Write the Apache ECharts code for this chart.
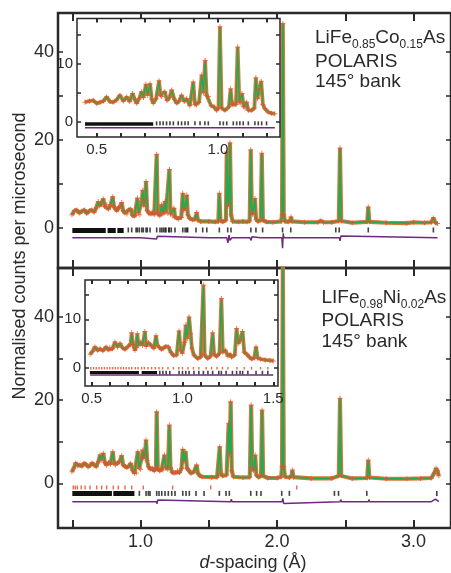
<!DOCTYPE html>
<html>
<head>
<meta charset="utf-8">
<script src="https://cdn.jsdelivr.net/npm/echarts@6/dist/echarts.min.js"></script>
<style>
  html, body { margin: 0; padding: 0; background: #fff; }
  #chart { width: 451px; height: 573px; }
</style>
</head>
<body>
<div id="chart"></div>
<script>
// ---- data: [d-spacing (Å), normalised counts] ----
const topProfile = [
  [0.497,3.0],[0.515,3.9],[0.532,4.1],[0.55,3.4],[0.57,3.8],[0.59,4.1],[0.605,3.3],[0.625,3.9],[0.642,4.1],[0.66,3.6],
  [0.675,4.6],[0.69,6.0],[0.70,5.0],[0.712,5.6],[0.727,6.6],[0.738,4.9],[0.752,5.3],[0.765,4.3],[0.78,5.2],[0.796,7.1],
  [0.805,4.8],[0.813,4.6],[0.825,3.9],[0.835,4.4],[0.849,4.9],[0.862,5.8],[0.872,3.9],[0.886,3.4],[0.90,3.2],[0.912,4.1],
  [0.928,4.3],[0.94,2.9],[0.955,2.7],[0.965,2.9],[0.977,6.8],[0.985,3.4],[0.995,3.0],[1.009,6.0],[1.016,8.6],[1.024,5.0],
  [1.033,6.2],[1.040,10.6],[1.048,4.0],[1.06,3.4],[1.075,3.2],[1.09,3.6],[1.10,3.0],[1.112,3.4],[1.118,16.8],[1.125,3.4],
  [1.14,2.8],[1.148,3.0],[1.155,5.3],[1.162,3.2],[1.172,3.4],[1.179,6.0],[1.186,3.6],[1.20,3.3],[1.211,13.3],[1.219,3.2],
  [1.232,2.8],[1.245,4.5],[1.252,2.5],[1.268,2.2],[1.28,2.0],[1.298,2.4],[1.309,7.9],[1.317,4.0],[1.324,4.5],[1.338,7.5],
  [1.346,3.0],[1.36,2.2],[1.38,1.9],[1.398,2.0],[1.411,3.5],[1.42,1.8],[1.44,1.5],[1.50,1.5],[1.55,1.4],[1.569,1.5],
  [1.577,7.9],[1.585,1.7],[1.60,1.4],[1.625,1.8],[1.631,17.3],[1.640,5.0],[1.648,6.0],[1.655,19.4],[1.663,3.0],[1.675,1.5],
  [1.72,1.4],[1.75,1.5],[1.78,1.4],[1.799,1.6],[1.807,17.8],[1.815,3.5],[1.822,3.0],[1.838,6.7],[1.846,2.0],[1.86,1.5],
  [1.88,1.8],[1.888,17.0],[1.896,1.8],[1.92,1.4],[1.97,1.3],[2.03,1.5],[2.036,3.0],[2.042,46.5],[2.049,3.0],[2.058,1.5],
  [2.08,1.4],[2.095,1.6],[2.102,2.5],[2.11,1.5],[2.20,1.3],[2.30,1.3],[2.32,1.6],[2.34,1.3],[2.40,1.3],[2.452,1.6],
  [2.461,18.2],[2.47,1.6],[2.55,1.2],[2.66,1.4],[2.668,4.8],[2.676,1.4],[2.80,1.2],[2.95,1.1],[3.00,1.3],[3.08,1.2],
  [3.13,1.3],[3.145,2.3],[3.16,1.2],[3.175,1.0]
];
const topDiff = [
  [0.5,-2.2],[1.0,-2.2],[1.118,-2.5],[1.122,-1.9],[1.5,-2.2],[1.631,-2.2],[1.64,-3.4],[1.648,-1.6],[1.655,-2.8],[1.67,-2.2],
  [1.80,-2.2],[1.81,-2.8],[1.815,-2.0],[1.88,-2.2],[1.89,-2.6],[2.035,-2.2],[2.04,-4.6],[2.045,-1.2],[2.05,-2.2],
  [2.455,-2.2],[2.461,-2.9],[2.468,-1.8],[2.475,-2.2],[3.175,-2.2]
];
const topBands = [[0.50, 0.745], [0.758, 0.818], [0.83, 0.876]];
const topTicks = [
  0.91,0.935,0.967,0.977,0.991,1.009,1.02,1.04,1.049,1.069,
  1.118,1.142,1.155,1.167,1.179,1.186,1.206,1.211,1.225,1.252,1.309,1.326,1.338,1.345,1.406,1.455,1.485,
  1.577,1.638,1.662,1.808,1.845,1.894,2.04,2.10,2.43,2.455,2.668,3.145
];

const botProfile = [
  [0.497,2.8],[0.51,3.6],[0.525,4.9],[0.54,4.3],[0.555,4.4],[0.57,4.1],[0.585,4.8],[0.60,4.6],[0.615,4.0],[0.63,4.3],
  [0.645,4.9],[0.66,4.4],[0.675,4.0],[0.69,5.2],[0.703,6.8],[0.712,5.6],[0.727,7.2],[0.738,5.0],[0.75,4.4],[0.765,5.0],
  [0.78,4.6],[0.796,7.6],[0.806,4.8],[0.815,4.4],[0.83,4.8],[0.845,5.2],[0.862,6.6],[0.872,4.4],[0.885,4.0],[0.90,3.8],
  [0.915,4.2],[0.928,4.8],[0.94,3.2],[0.955,2.4],[0.968,2.5],[0.98,7.6],[0.99,3.6],[1.0,3.4],[1.009,6.2],[1.016,8.0],
  [1.024,6.0],[1.033,7.0],[1.040,10.4],[1.048,5.4],[1.058,4.0],[1.07,3.4],[1.085,3.6],[1.10,3.0],[1.112,3.6],[1.118,17.2],
  [1.126,3.5],[1.14,3.0],[1.155,3.4],[1.163,3.2],[1.175,6.8],[1.185,3.8],[1.20,3.4],[1.211,14.0],[1.219,3.8],[1.232,2.6],
  [1.245,2.4],[1.258,2.6],[1.27,3.0],[1.285,2.6],[1.30,3.6],[1.309,8.2],[1.318,5.2],[1.33,7.6],[1.34,3.6],[1.352,3.2],
  [1.37,2.4],[1.39,2.8],[1.411,4.4],[1.42,2.4],[1.435,1.8],[1.45,1.6],[1.52,1.5],[1.56,1.5],[1.572,1.8],[1.58,8.8],
  [1.588,2.4],[1.60,1.8],[1.63,2.0],[1.645,14.4],[1.652,7.0],[1.66,19.6],[1.668,3.0],[1.68,1.6],[1.75,1.4],[1.80,1.5],
  [1.81,18.8],[1.818,3.6],[1.828,3.0],[1.84,6.8],[1.848,2.0],[1.865,1.5],[1.882,1.8],[1.89,17.6],[1.898,1.8],[1.93,1.3],
  [2.0,1.3],[2.03,1.6],[2.036,4.0],[2.042,54.0],[2.049,4.0],[2.058,1.6],[2.09,1.4],[2.105,1.8],[2.112,3.2],[2.12,1.5],
  [2.25,1.2],[2.40,1.2],[2.452,1.8],[2.461,20.4],[2.47,1.8],[2.55,1.2],[2.66,1.3],[2.668,5.6],[2.676,1.4],[2.80,1.1],
  [2.95,1.1],[3.05,1.2],[3.13,1.3],[3.15,2.4],[3.165,3.6],[3.175,3.0],[3.185,1.8]
];
const botDiff = [
  [0.5,-4.4],[1.118,-4.4],[1.12,-4.9],[1.125,-4.0],[1.66,-4.4],[1.665,-3.8],[1.67,-4.4],[2.036,-4.4],[2.042,-3.6],[2.048,-4.8],
  [2.055,-4.4],[2.461,-4.4],[2.466,-3.9],[2.472,-4.4],[2.668,-4.4],[2.672,-3.9],[2.678,-4.4],[3.13,-4.4],[3.16,-3.8],[3.185,-4.4]
];
const botBands = [[0.50, 0.79], [0.80, 0.955]];
const botTicks = [
  0.991,1.04,1.057,1.069,1.118,1.135,1.155,1.179,1.203,1.228,1.252,1.309,1.333,1.357,1.406,1.465,
  1.577,1.626,1.65,1.807,1.85,1.882,2.034,2.09,2.42,2.45,2.657,3.17
];
const botRedTicks = [
  0.507,0.522,0.537,0.565,0.593,0.63,0.679,0.715,0.752,0.80,0.837,0.886,0.935,1.02,1.235,1.514,2.144
];

// insets
const insTopProfile = [
  [0.452,3.4],[0.47,3.6],[0.486,3.7],[0.50,3.2],[0.514,3.4],[0.528,3.6],[0.541,4.3],[0.555,3.5],[0.568,3.4],[0.582,3.8],
  [0.596,4.6],[0.61,3.6],[0.624,4.3],[0.636,3.5],[0.648,4.9],[0.658,3.8],[0.665,3.2],[0.675,4.0],[0.685,5.2],[0.693,4.2],
  [0.703,6.5],[0.71,4.6],[0.72,6.6],[0.727,3.9],[0.733,3.2],[0.745,4.0],[0.757,7.1],[0.763,4.6],[0.768,4.4],[0.781,5.2],
  [0.79,3.7],[0.80,4.2],[0.809,5.5],[0.82,3.9],[0.83,3.2],[0.84,3.6],[0.85,4.6],[0.861,3.5],[0.871,4.0],[0.884,2.8],
  [0.898,6.9],[0.905,3.0],[0.912,2.9],[0.922,3.4],[0.933,8.1],[0.94,5.0],[0.947,10.6],[0.953,4.6],[0.96,4.4],[0.972,2.8],
  [0.983,2.6],[0.994,2.0],[1.002,2.4],[1.008,16.4],[1.015,2.4],[1.029,2.0],[1.045,2.6],[1.052,5.7],[1.058,3.0],[1.063,3.2],
  [1.074,3.0],[1.081,12.9],[1.088,3.4],[1.094,3.2],[1.099,4.9],[1.106,2.6],[1.112,2.4],[1.118,3.4],[1.125,2.0],[1.139,2.0],
  [1.15,2.4],[1.156,7.6],[1.163,4.0],[1.17,5.7],[1.178,7.0],[1.185,3.0],[1.193,2.3],[1.207,1.7],[1.22,1.5],[1.234,1.4]
];
const insTopBands = [[0.452, 0.733]];
const insTopTicks = [
  0.747,0.761,0.774,0.788,0.802,0.816,0.836,0.85,0.864,0.877,0.905,0.926,0.946,0.96,1.008,1.022,1.036,
  1.063,1.077,1.09,1.104,1.125,1.152,1.166,1.18,1.20
];
const insTopDiff = [[0.452,-1.0],[1.008,-1.0],[1.012,-1.3],[1.016,-1.0],[1.234,-1.0]];

const insBotProfile = [
  [0.491,2.8],[0.505,3.4],[0.518,4.3],[0.532,3.6],[0.546,3.9],[0.562,3.5],[0.579,4.3],[0.59,3.7],[0.60,4.1],[0.614,3.9],
  [0.628,5.3],[0.642,4.3],[0.656,5.0],[0.67,4.1],[0.683,3.8],[0.70,4.4],[0.714,4.9],[0.72,7.2],[0.727,4.8],[0.738,3.6],
  [0.744,4.2],[0.751,7.0],[0.758,4.6],[0.77,5.3],[0.78,4.6],[0.793,7.5],[0.80,4.4],[0.812,5.2],[0.83,4.5],[0.843,4.0],
  [0.854,6.6],[0.862,4.6],[0.872,4.3],[0.884,3.8],[0.894,4.0],[0.908,4.4],[0.922,4.3],[0.936,3.2],[0.95,2.5],[0.968,2.6],
  [0.981,7.6],[0.99,3.6],[0.999,3.0],[1.011,5.2],[1.018,8.8],[1.026,6.0],[1.036,10.5],[1.045,7.0],[1.052,4.0],[1.063,2.6],
  [1.084,1.9],[1.10,2.2],[1.109,2.6],[1.115,17.1],[1.122,2.6],[1.139,1.9],[1.155,2.4],[1.166,7.2],[1.174,2.8],[1.188,2.3],
  [1.204,3.0],[1.214,14.3],[1.222,3.2],[1.236,3.6],[1.25,2.4],[1.262,2.8],[1.27,2.2],[1.288,2.6],[1.298,8.1],[1.307,5.0],
  [1.317,5.7],[1.331,7.5],[1.34,3.2],[1.354,2.8],[1.368,2.2],[1.381,1.8],[1.395,2.0],[1.405,4.3],[1.414,2.0],[1.43,1.8],
  [1.455,1.6],[1.482,1.5],[1.50,1.4]
];
const insBotBands = [[0.49, 0.76], [0.775, 0.86]];
const insBotTicks = [0.875,0.892,0.91,0.93,0.981,1.0,1.018,1.036,1.063,1.09,1.115,1.14,1.166,1.2,1.214,1.24,1.275,1.298,1.317,1.331,1.36,1.405,1.44,1.47];
const insBotRedTicks = [
  0.495,0.51,0.525,0.54,0.555,0.57,0.585,0.60,0.615,0.63,0.645,0.66,0.675,0.69,0.705,0.72,0.74,0.755,0.775,0.79,0.81,
  0.83,0.85,0.87,0.89,0.92,0.95,0.98,1.0,1.03,1.06,1.09,1.13,1.16,1.19,1.22,1.25,1.3,1.34,1.38,1.43,1.47
];
const insBotDiff = [[0.491,-1.5],[1.115,-1.5],[1.118,-1.9],[1.122,-1.5],[1.5,-1.5]];

// tick values
const mainXTicks = [0.5, 1.0, 1.5, 2.0, 2.5, 3.0];
const mainXLabels = [1.0, 2.0, 3.0];
const mainYTicks = [0, 10, 20, 30, 40];
const mainYLabels = [0, 20, 40];
const insTopXTicks = [0.5, 0.6, 0.7, 0.8, 0.9, 1.0, 1.1, 1.2];
const insTopXLabels = [0.5, 1.0];
const insBotXTicks = [0.5, 0.6, 0.7, 0.8, 0.9, 1.0, 1.1, 1.2, 1.3, 1.4, 1.5];
const insBotXLabels = [0.5, 1.0, 1.5];
const insYTicks = [0, 5, 10, 15];
const insYLabels = [0, 10];

const FONT = '"Liberation Sans", Arial, sans-serif';
const INK = '#2a2a2a';
const OBS_LINE = '#dc7436';
const OBS_MARK = '#e4532a';
const CALC = '#22aa52';
const DIFF = '#6e2a7c';
const PLUS = 'path://M2,0H3V2H5V3H3V5H2V3H0V2H2Z';

function xAxis(grid, min, max, ticks, labels, pos, len, fs, z) {
  return {
    type: 'value', gridIndex: grid, min: min, max: max, position: pos, z: z,
    axisLine: { show: false, onZero: false },
    splitLine: { show: false },
    axisTick: { inside: true, length: len, customValues: ticks, lineStyle: { color: INK, width: 2 } },
    axisLabel: labels ? {
      customValues: labels, margin: 5, color: INK, fontSize: fs, fontFamily: FONT,
      formatter: v => v.toFixed(1)
    } : { show: false }
  };
}
function yAxis(grid, min, max, ticks, labels, pos, len, fs, z) {
  return {
    type: 'value', gridIndex: grid, min: min, max: max, position: pos, z: z,
    axisLine: { show: false, onZero: false },
    splitLine: { show: false },
    axisTick: { inside: true, length: len, customValues: ticks, lineStyle: { color: INK, width: 1.5 } },
    axisLabel: labels ? {
      customValues: labels, margin: 4, color: INK, fontSize: fs, fontFamily: FONT
    } : { show: false }
  };
}

function panelSeries(ax, profile, diff, bands, ticks, redTicks, tickY, redY, bandW, tickH, lw, z) {
  const s = [];
  s.push({ type: 'line', xAxisIndex: ax, yAxisIndex: ax, data: profile, z: z,
    showSymbol: false, lineStyle: { color: OBS_LINE, width: lw + 2.4 } });
  s.push({ type: 'line', xAxisIndex: ax, yAxisIndex: ax, data: profile, z: z + 1,
    showSymbol: false, lineStyle: { color: CALC, width: lw } });
  s.push({ type: 'scatter', xAxisIndex: ax, yAxisIndex: ax, data: profile, z: z + 2,
    symbol: PLUS, symbolSize: 5, itemStyle: { color: OBS_MARK } });
  s.push({ type: 'line', xAxisIndex: ax, yAxisIndex: ax, data: diff, z: z,
    showSymbol: false, lineStyle: { color: DIFF, width: 1.5 } });
  s.push({ type: 'lines', coordinateSystem: 'cartesian2d', xAxisIndex: ax, yAxisIndex: ax, z: z,
    data: bands.map(b => ({ coords: [[b[0], tickY], [b[1], tickY]] })),
    lineStyle: { color: '#111', width: bandW, opacity: 1 } });
  s.push({ type: 'scatter', xAxisIndex: ax, yAxisIndex: ax, z: z,
    data: ticks.map(d => [d, tickY]), symbol: 'rect', symbolSize: [1.6, tickH], itemStyle: { color: '#111' } });
  if (redTicks) {
    s.push({ type: 'scatter', xAxisIndex: ax, yAxisIndex: ax, z: z,
      data: redTicks.map(d => [d, redY]), symbol: 'rect', symbolSize: [1.4, tickH - 1], itemStyle: { color: '#e8401c' } });
  }
  return s;
}

const chart = echarts.init(document.getElementById('chart'));

const option = {
  animation: false,
  backgroundColor: '#fff',
  grid: [
    { left: 58, top: 13, width: 393, height: 255, show: true, borderColor: INK, borderWidth: 2.5, backgroundColor: 'transparent' },
    { left: 58, top: 268, width: 393, height: 260, show: true, borderColor: INK, borderWidth: 2.5, backgroundColor: 'transparent' },
    { left: 77, top: 18.5, width: 203, height: 118.5, show: true, borderColor: INK, borderWidth: 1.5, backgroundColor: '#fff', z: 5 },
    { left: 85, top: 280, width: 193, height: 106, show: true, borderColor: INK, borderWidth: 1.5, backgroundColor: '#fff', z: 5 }
  ],
  xAxis: [
    xAxis(0, 0.395, 3.274, mainXTicks, null, 'bottom', 8, 18, 1),
    xAxis(0, 0.395, 3.274, mainXTicks, null, 'top', 8, 18, 1),
    xAxis(1, 0.395, 3.274, mainXTicks, mainXLabels, 'bottom', 8, 18, 1),
    xAxis(1, 0.395, 3.274, mainXTicks, null, 'top', 8, 18, 1),
    xAxis(2, 0.419, 1.2555, insTopXTicks, insTopXLabels, 'bottom', 4, 15, 8),
    xAxis(2, 0.419, 1.2555, insTopXTicks, null, 'top', 4, 15, 8),
    xAxis(3, 0.463, 1.526, insBotXTicks, insBotXLabels, 'bottom', 4, 15, 8),
    xAxis(3, 0.463, 1.526, insBotXTicks, null, 'top', 4, 15, 8)
  ],
  yAxis: [
    yAxis(0, -9.1, 48.9, mainYTicks, mainYLabels, 'left', 5, 18, 1),
    yAxis(0, -9.1, 48.9, mainYTicks, null, 'right', 5, 18, 1),
    yAxis(1, -10.7, 51.65, mainYTicks, mainYLabels, 'left', 5, 18, 1),
    yAxis(1, -10.7, 51.65, mainYTicks, null, 'right', 5, 18, 1),
    yAxis(2, -2.6, 17.83, insYTicks, insYLabels, 'left', 4, 15, 8),
    yAxis(2, -2.6, 17.83, insYTicks, null, 'right', 4, 15, 8),
    yAxis(3, -3.78, 18.12, insYTicks, insYLabels, 'left', 4, 15, 8),
    yAxis(3, -3.78, 18.12, insYTicks, null, 'right', 4, 15, 8)
  ],
  series: [].concat(
    panelSeries(0, topProfile, topDiff, topBands, topTicks, null, -0.45, 0, 5, 5, 1.7, 2),
    panelSeries(2, botProfile, botDiff, botBands, botTicks, botRedTicks, -2.4, -1.0, 5, 5, 1.7, 2),
    panelSeries(4, insTopProfile, insTopDiff, insTopBands, insTopTicks, null, -0.25, 0, 3.5, 4, 1.4, 6),
    panelSeries(6, insBotProfile, insBotDiff, insBotBands, insBotTicks, insBotRedTicks, -1.0, -0.1, 3, 3.5, 1.4, 6)
  ),
  graphic: [
    { type: 'text', x: 20, y: 256, rotation: Math.PI / 2, z: 20,
      style: { text: 'Normalised counts per microsecond', font: '18px ' + FONT, fill: INK, align: 'center', verticalAlign: 'middle' } },
    { type: 'text', x: 253, y: 563, z: 20,
      style: { text: '{i|d}{n|-spacing (Å)}', align: 'center', verticalAlign: 'middle',
        rich: { i: { font: 'italic 18px ' + FONT, fill: INK }, n: { font: '18px ' + FONT, fill: INK } } } },
    { type: 'text', x: 315, y: 38, z: 20,
      style: { text: '{n|LiFe}{s|0.85}{n|Co}{s|0.15}{n|As}', verticalAlign: 'middle',
        rich: { n: { font: '19px ' + FONT, fill: INK }, s: { font: '12px ' + FONT, fill: INK, padding: [13, 0, 0, 0] } } } },
    { type: 'text', x: 315, y: 61.5, z: 20,
      style: { text: 'POLARIS\n145° bank', verticalAlign: 'top', font: '19px ' + FONT, fill: INK, lineHeight: 20.5, y: -10 } },
    { type: 'text', x: 321.5, y: 298, z: 20,
      style: { text: '{n|LIFe}{s|0.98}{n|Ni}{s|0.02}{n|As}', verticalAlign: 'middle',
        rich: { n: { font: '19px ' + FONT, fill: INK }, s: { font: '12px ' + FONT, fill: INK, padding: [13, 0, 0, 0] } } } },
    { type: 'text', x: 321.5, y: 320, z: 20,
      style: { text: 'POLARIS\n145° bank', verticalAlign: 'top', font: '19px ' + FONT, fill: INK, lineHeight: 21.5, y: -10 } }
  ]
};

chart.setOption(option);
</script>
</body>
</html>
